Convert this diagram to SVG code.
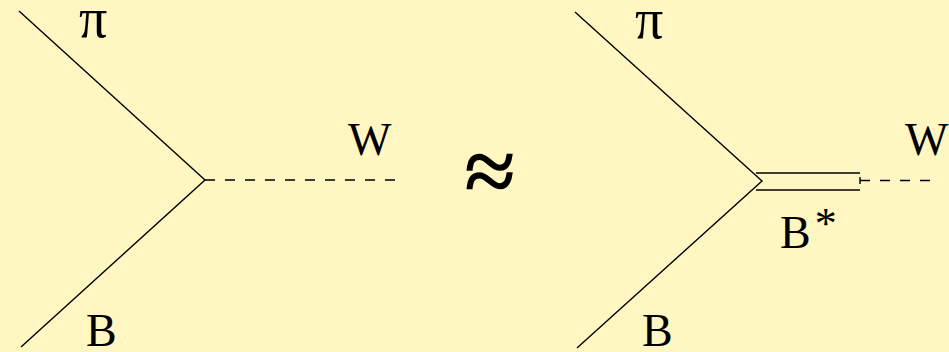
<svg xmlns="http://www.w3.org/2000/svg" width="949" height="352" viewBox="0 0 949 352">
<style>
.ln{stroke:#000;stroke-width:1.4;fill:none}
.ds{stroke:#000;stroke-width:1.4;fill:none;stroke-dasharray:10 10}
.t{font-family:"Liberation Serif","Times New Roman",serif;font-size:46px;fill:#000}
.pi{font-size:56px}
</style>
<rect width="949" height="352" fill="#FFF6C1"/>
<g id="connectors">
<polyline class="ln" points="19,11 205,180 21,347"/>
<line class="ds" x1="205" y1="180" x2="400" y2="180"/>
<polyline class="ln" points="575,12 762,181 577,348"/>
<line class="ln" x1="756" y1="173" x2="860" y2="173"/>
<line class="ln" x1="756" y1="190" x2="860" y2="190"/>
<line class="ln" x1="860" y1="177" x2="860" y2="184"/>
<line class="ds" x1="860" y1="180.5" x2="932" y2="180.5"/>
</g>
<g id="left-pi"><text class="t pi" x="79" y="37">π</text></g>
<g id="left-W"><text class="t" x="348" y="155">W</text></g>
<g id="left-B"><text class="t" x="86" y="346">B</text></g>
<g id="approx"><text class="t" x="490" y="202" text-anchor="middle" style="font-size:92px;stroke:#000;stroke-width:1.5">≈</text></g>
<g id="right-pi"><text class="t pi" x="635" y="38">π</text></g>
<g id="right-W"><text class="t" x="905" y="155">W</text></g>
<g id="right-B"><text class="t" x="642" y="346">B</text></g>
<g id="Bstar"><text class="t" x="780" y="248">B<tspan dx="4" dy="-10" font-size="44">*</tspan></text></g>
</svg>
